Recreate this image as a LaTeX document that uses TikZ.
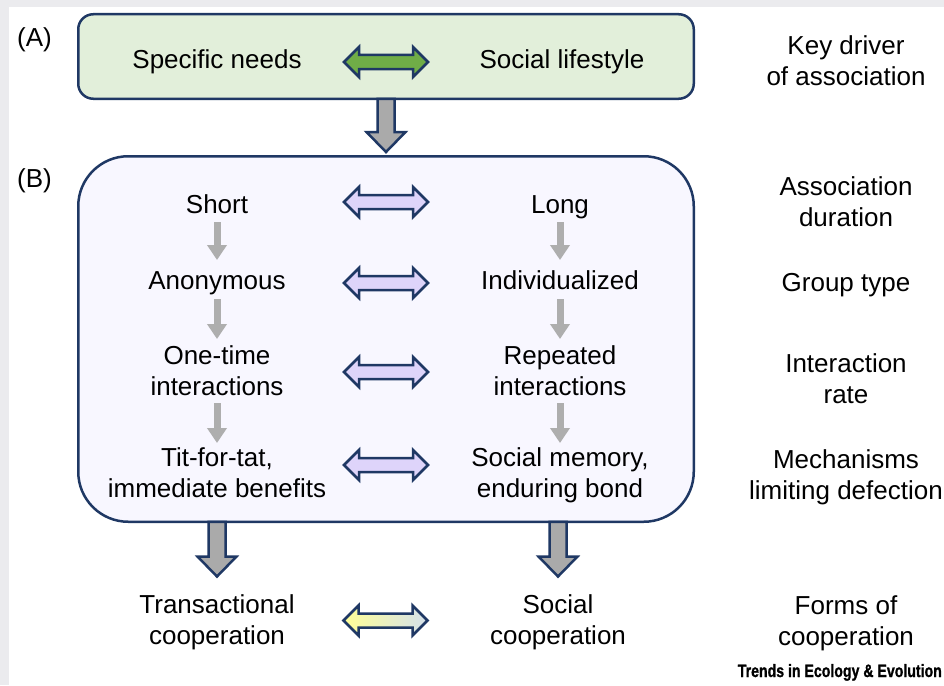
\documentclass[tikz,border=0pt]{standalone}
\usepackage{fontspec}
\setmainfont{Liberation Sans}
\newfontfamily\trendsfont{Liberation Sans}[BoldFeatures={FakeBold=1.2}]
\usetikzlibrary{arrows.meta,calc}
\definecolor{navy}{RGB}{31,56,100}
\definecolor{boxAfill}{RGB}{226,239,218}
\definecolor{boxBfill}{RGB}{248,247,255}
\definecolor{greenarr}{RGB}{112,173,71}
\definecolor{purplearr}{RGB}{222,212,250}
\definecolor{biggray}{RGB}{170,170,170}
\definecolor{smallgray}{RGB}{174,174,174}
\definecolor{bggray}{RGB}{235,235,238}
\definecolor{gradY}{RGB}{255,255,150}
\definecolor{gradB}{RGB}{212,224,236}
\newcommand\dblarr[2]{\path[blockarr,#2] ([shift={(-42,0)}]#1) -- ++(15,15) -- ++(0,-8) -- ++(54,0) -- ++(0,8) -- ++(15,-15) -- ++(-15,-15) -- ++(0,8) -- ++(-54,0) -- ++(0,-8) -- cycle;}
\newcommand\bigdown[2]{\path[blockarr,fill=biggray] let \p1=#1, \p2=#2 in (\x1-8.5pt,\y1) -- (\x1-8.5pt,\y2+20pt) -- (\x1-19.5pt,\y2+20pt) -- (\x1,\y2) -- (\x1+19.5pt,\y2+20pt) -- (\x1+8.5pt,\y2+20pt) -- (\x1+8.5pt,\y1) -- cycle;}
\tikzset{
  txt/.style={font=\fontsize{26}{31}\selectfont, align=center, inner sep=0pt, anchor=base},
  boxA/.style={draw=navy, line width=2.5pt, fill=boxAfill, rounded corners=15pt, minimum width=615.5pt, minimum height=84.5pt, outer sep=0pt, inner sep=0pt},
  boxB/.style={draw=navy, line width=2.5pt, fill=boxBfill, rounded corners=50pt, minimum width=615.5pt, minimum height=365.5pt, outer sep=0pt, inner sep=0pt},
  blockarr/.style={draw=navy, line width=2.5pt, line join=miter},
  smallarr/.style={draw=smallgray, line width=7pt, -{Triangle[length=15pt,width=19pt]}},
}
\begin{document}
\begin{tikzpicture}[x=1pt,y=-1pt]
\useasboundingbox (0,0) rectangle (944,685);
\fill[bggray] (0,0) rectangle (944,685);
\fill[white] (9,7) rectangle (944,685);

% boxes
\node[boxA] (boxA) at (386,56.5) {};
\node[boxB] (boxB) at (386,339) {};

% labels (A) (B)
\node[txt, anchor=base west] (lA) at (17,46) {(A)};
\node[txt, anchor=base west] (lB) at (17,187) {(B)};

% row A (base anchor = last line)
\node[txt] (specific) at (217,68) {Specific needs};
\node[txt] (social) at (562,68) {Social lifestyle};
\node[txt] (keydriver) at (846,85) {Key driver\\of association};

% box B rows
\node[txt] (short) at (217,213) {Short};
\node[txt] (long) at (560,213) {Long};
\node[txt] (assoc) at (846,226) {Association\\duration};

\node[txt] (anon) at (217,289) {Anonymous};
\node[txt] (indiv) at (560,289) {Individualized};
\node[txt] (grouptype) at (846,291) {Group type};

\node[txt] (onetime) at (217,395) {One-time\\interactions};
\node[txt] (repeated) at (560,395) {Repeated\\interactions};
\node[txt] (interact) at (846,403) {Interaction\\rate};

\node[txt] (titfortat) at (217,497) {Tit-for-tat,\\immediate benefits};
\node[txt] (socialmem) at (560,497) {Social memory,\\enduring bond};
\node[txt] (mech) at (846,499) {Mechanisms\\limiting defection};

% bottom row
\node[txt] (transact) at (217,644) {Transactional\\cooperation};
\node[txt] (socialcoop) at (558,644) {Social\\cooperation};
\node[txt] (forms) at (846,645) {Forms of\\cooperation};

\node[inner sep=0pt, anchor=base east] (trends) at (942,677) {\resizebox{204pt}{13pt}{\trendsfont\bfseries Trends in Ecology \& Evolution}};

% double arrows
\coordinate (mA) at (386,62);
\coordinate (m1) at (386,202);
\coordinate (m2) at (386,283);
\coordinate (m3) at (386,372);
\coordinate (m4) at (386,465);
\coordinate (m5) at (385.5,620.5);
\dblarr{mA}{fill=greenarr}
\dblarr{m1}{fill=purplearr}
\dblarr{m2}{fill=purplearr}
\dblarr{m3}{fill=purplearr}
\dblarr{m4}{fill=purplearr}
\dblarr{m5}{left color=gradY, right color=gradB}

% big down arrows
\coordinate (tipAB) at (386,152);
\coordinate (tipL) at (217,576.5);
\coordinate (tipR) at (558,576.5);
\bigdown{(boxA.south)}{(tipAB)}
\bigdown{([xshift=-169pt]boxB.south)}{(tipL)}
\bigdown{([xshift=172pt]boxB.south)}{(tipR)}

% small gray arrows
\foreach \x/\n in {217/l,560/r}{
  \coordinate (\n1s) at (\x,222); \coordinate (\n1e) at (\x,260);
  \coordinate (\n2s) at (\x,299); \coordinate (\n2e) at (\x,339);
  \coordinate (\n3s) at (\x,403); \coordinate (\n3e) at (\x,443);
  \draw[smallarr] (\n1s) -- (\n1e);
  \draw[smallarr] (\n2s) -- (\n2e);
  \draw[smallarr] (\n3s) -- (\n3e);
}
\end{tikzpicture}
\end{document}
